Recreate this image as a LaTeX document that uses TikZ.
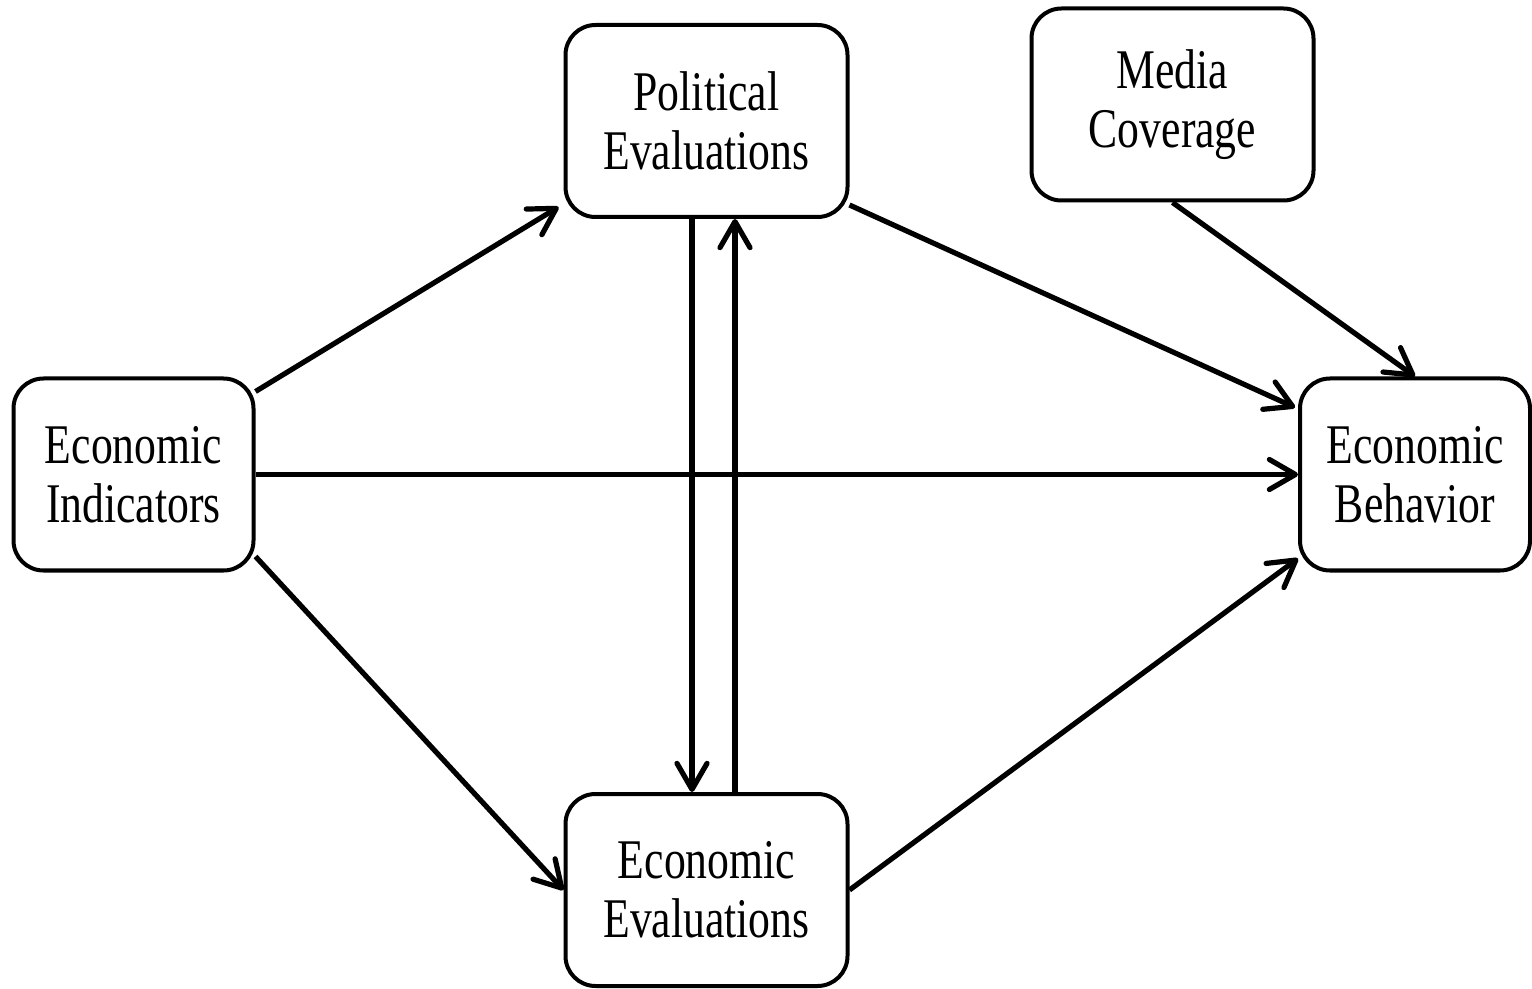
\documentclass[tikz,border=0pt]{standalone}
\usepackage{fontspec}
\setmainfont{Liberation Serif}[FakeStretch=0.78]
\usetikzlibrary{arrows.meta,positioning}
\tikzset{
	hop/.style={draw,line width=2pt,rounded corners=15pt,minimum width=#1,minimum height=96pt,align=center,inner sep=0pt,font=\fontsize{28}{29.5}\selectfont},
	hop/.default=141pt,
	mui/.style={line width=2.6pt,-{Straight Barb[round,length=13pt,width=15pt]}}
}
\begin{document}
\begin{tikzpicture}[x=0.5pt,y=-0.5pt]
	\useasboundingbox (0,0) rectangle (1532,989);
	%%%Vẽ các khung
	\node[hop=120pt] (ind) at (133.5,474.5) {Economic\\Indicators};
	\node[hop] (pol) at (706.5,121) {Political\\Evaluations};
	\node[hop] (med) at (1172.5,104.5) {Media\\Coverage};
	\node[hop] (eev) at (706.5,890) {Economic\\Evaluations};
	\node[hop=115pt] (beh) at (1415,474.5) {Economic\\Behavior};
	%%%Vẽ các mũi tên
	\draw[mui] ([yshift=-7.5pt]ind.north east)--([xshift=-2.5pt,yshift=6pt]pol.south west);
	\draw[mui] (ind)--(beh);
	\draw[mui] ([yshift=8pt]ind.south east)--(eev.west);
	%%%Hai chiều
	\draw[mui] ([xshift=-7.25pt]pol.south)--([xshift=-7.25pt]eev.north);
	\draw[mui] ([xshift=14.25pt]eev.north)--([xshift=14.25pt]pol.south);
	%%%Vào hành vi
	\draw[mui] ([yshift=7pt]pol.south east)--([xshift=-1.5pt,yshift=-15.5pt]beh.north west);
	\draw[mui] (med.south)--(beh.north);
	\draw[mui] (eev.east)--([yshift=7pt]beh.south west);
\end{tikzpicture}
\end{document}
